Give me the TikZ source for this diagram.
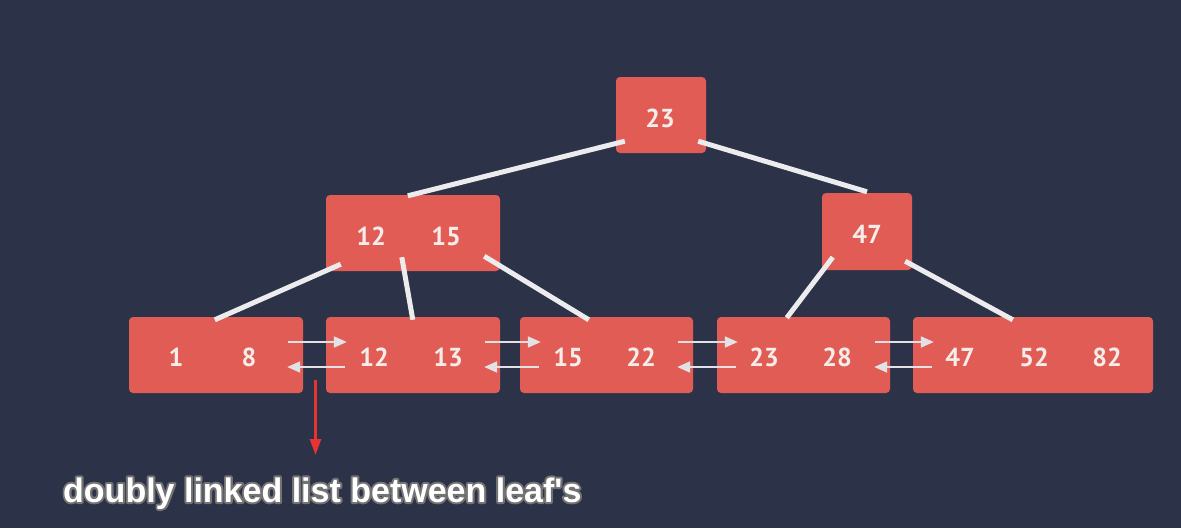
\documentclass[tikz,border=0pt]{standalone}
\usepackage{fontspec}
\setmainfont{PT Sans}[BoldFont={PT Sans Bold}]
\newfontfamily\labelfont{Liberation Sans Bold}[Ligatures=TeXOff]
\usetikzlibrary{arrows.meta,calc}
\definecolor{bg}{RGB}{44,51,73}
\definecolor{boxred}{RGB}{224,92,84}
\definecolor{keytext}{RGB}{246,236,234}
\definecolor{edgecol}{RGB}{236,236,238}
\definecolor{linkcol}{RGB}{226,226,230}
\definecolor{callout}{RGB}{232,52,48}
\begin{document}
\begin{tikzpicture}[x=1pt,y=-1pt,
  box/.style={draw=none, fill=boxred, rounded corners=4pt, inner sep=0pt, minimum height=76pt},
  key/.style={text=keytext, font=\bfseries\fontsize{26}{26}\selectfont, anchor=base, inner sep=0pt},
  treeedge/.style={draw=edgecol, line width=5pt},
  link/.style={draw=linkcol, line width=2pt, -{Triangle[length=13pt,width=11pt]}},
  pointer/.style={draw=callout, line width=2.5pt, -{Triangle[length=16pt,width=11pt]}},
]
\fill[bg] (0,0) rectangle (1181,528);
\useasboundingbox (0,0) rectangle (1181,528);

% boxes
\node[box, minimum width=90pt] (root) at (661,115) {};
\node[box, minimum width=174pt] (ml) at (413,233) {};
\node[box, minimum width=90pt, minimum height=77pt] (mr) at (867,231.5) {};
\node[box, minimum width=174pt] (l1) at (216,355) {};
\node[box, minimum width=174pt] (l2) at (413,355) {};
\node[box, minimum width=173pt] (l3) at (606.5,355) {};
\node[box, minimum width=173pt] (l4) at (803.5,355) {};
\node[box, minimum width=240pt] (l5) at (1033,355) {};

% tree edges
\draw[treeedge] ($(root.south west)+(9,-12)$) -- ($(ml.north west)+(82,1)$);
\draw[treeedge] ($(root.south east)+(-8,-12)$) -- ($(mr.north)+(0,-1)$);
\draw[treeedge] ($(ml.south west)+(15,-7)$) -- ($(l1.north west)+(86,3)$);
\draw[treeedge] ($(ml.south west)+(76,-14)$) -- ($(l2.north west)+(87,3)$);
\draw[treeedge] ($(ml.south east)+(-16,-15)$) -- ($(l3.north west)+(69,3)$);
\draw[treeedge] ($(mr.south west)+(11,-13)$) -- ($(l4.north west)+(70,1)$);
\draw[treeedge] ($(mr.south east)+(-7,-9)$) -- ($(l5.north west)+(100,3)$);

% leaf links
\foreach \a/\b in {l1/l2,l2/l3,l3/l4,l4/l5}{
  \draw[link] ($(\a.east)+(-15,-13)$) -- ($(\b.west)+(21,-13)$);
  \draw[link] ($(\b.west)+(19,12)$) -- ($(\a.east)+(-16,12)$);
}

% keys
\node[key] (k-root) at (660,127) {23};
\node[key] (k-ml1) at (371,245) {12};
\node[key] (k-ml2) at (446,245) {15};
\node[key] (k-mr) at (867,243) {47};
\node[key] (k-l1a) at (176,366) {1};
\node[key] (k-l1b) at (249,366) {8};
\node[key] (k-l2a) at (374,366) {12};
\node[key] (k-l2b) at (448,366) {13};
\node[key] (k-l3a) at (568,366) {15};
\node[key] (k-l3b) at (641,366) {22};
\node[key] (k-l4a) at (764,366) {23};
\node[key] (k-l4b) at (837,366) {28};
\node[key] (k-l5a) at (960,366) {47};
\node[key] (k-l5b) at (1034,366) {52};
\node[key] (k-l5c) at (1107,366) {82};

% callout
\coordinate (ptr-start) at ($(l1.east)!0.5!(l2.west)+(1,25)$);
\coordinate (ptr-end) at ($(ptr-start)+(0,75)$);
\draw[pointer] (ptr-start) -- (ptr-end);
\node[anchor=base west, inner sep=0pt, text=white, font=\labelfont\fontsize{34}{34}\selectfont] (label) at (63,502)
  {\rlap{\special{pdf:literal direct 0.45 0.45 0.45 RG 4 w 1 j 1 Tr}doubly linked list between leaf's\special{pdf:literal direct 0 Tr}}doubly linked list between leaf's};
\end{tikzpicture}
\end{document}
